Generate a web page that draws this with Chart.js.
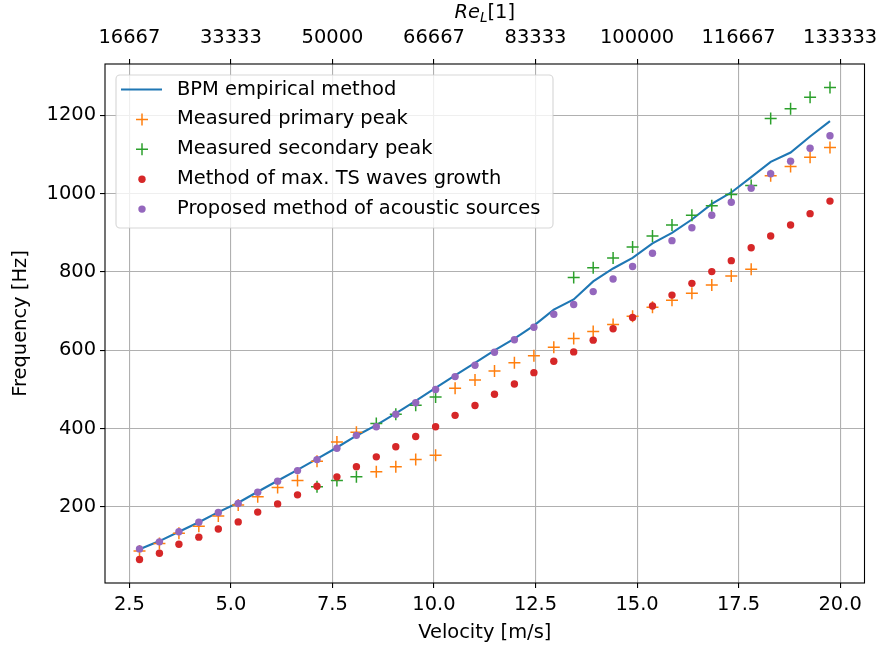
<!DOCTYPE html>
<html>
<head>
<meta charset="utf-8">
<script src="https://cdn.jsdelivr.net/npm/chart.js@4.4.1/dist/chart.umd.min.js"></script>
<style>
  html, body { margin: 0; padding: 0; background: #fff; }
  #wrap { width: 879px; height: 646px; }
</style>
</head>
<body>
<div id="wrap"><canvas id="freqChart" width="879" height="646"></canvas></div>
<script>
// Flow velocity of each measurement [m/s]
const velocity = [
  2.75, 3.24, 3.72, 4.21, 4.69, 5.18, 5.66, 6.15, 6.64, 7.12, 7.61, 8.09,
  8.58, 9.06, 9.55, 10.04, 10.52, 11.01, 11.49, 11.98, 12.46, 12.95, 13.44, 13.92,
  14.41, 14.89, 15.38, 15.86, 16.35, 16.84, 17.32, 17.81, 18.29, 18.78, 19.26, 19.75
];

// Frequencies [Hz]
const bpmEmpirical = [
  92, 113, 137, 161, 187, 211, 239, 267, 295, 323, 352, 382,
  409, 439, 471, 504, 536, 568, 600, 630, 663, 704, 730, 776,
  809, 836, 873, 900, 934, 974, 1003, 1042, 1081, 1105, 1146, 1185
];
const primaryPeak = [
  88, 107, 133, 151, 177, 205, 226, 250, 268, 317, 366, 391,
  290, 303, 321, 332, 503, 524, 547, 568, 586, 608, 630, 648,
  666, 687, 710, 728, 746, 767, 790, 807, 1046, 1069, 1093, 1118
];
const secondaryPeak = [
  null, null, null, null, null, null, null, null, null, 252, 268, 277,
  413, 437, 460, 481, null, null, null, null, null, null, 786, 811,
  836, 864, 892, 920, 945, 969, 998, 1021, 1192, 1217, 1246, 1271
];
const tsWavesGrowth = [
  66, 82, 105, 123, 144, 162, 187, 208, 231, 253, 277, 303,
  328, 354, 380, 405, 434, 459, 488, 514, 543, 572, 596, 626,
  655, 684, 713, 741, 771, 801, 829, 862, 892, 920, 949, 981
];
const acousticSources = [
  93, 111, 137, 161, 186, 209, 238, 266, 293, 321, 350, 383,
  405, 437, 466, 500, 533, 562, 595, 627, 659, 692, 717, 750,
  782, 814, 848, 880, 913, 945, 978, 1014, 1051, 1083, 1116, 1148
];

// Axis ticks
const velocityTicks = [2.5, 5.0, 7.5, 10.0, 12.5, 15.0, 17.5, 20.0];
const velocityTickLabels = ['2.5', '5.0', '7.5', '10.0', '12.5', '15.0', '17.5', '20.0'];
const reTickLabels = ['16667', '33333', '50000', '66667', '83333', '100000', '116667', '133333'];
const freqTicks = [200, 400, 600, 800, 1000, 1200];

const toPoints = ys => velocity
  .map((v, i) => ({ x: v, y: ys[i] }))
  .filter(p => p.y !== null);

const FONT = { family: "'DejaVu Sans', sans-serif", size: 19.44 };
const gridStyle = { color: '#b0b0b0', lineWidth: 1.1, tickColor: '#000', tickLength: 5, tickWidth: 1.1 };

// keep the plot box fixed: tick labels may run past the frame edges
const fixHeight = h => s => { s.height = h; s.paddingLeft = 0; s.paddingRight = 0; };

// Plot frame, legend and the mathtext-like top axis label
const decorations = {
  id: 'decorations',
  afterDatasetsDraw(chart) {
    const { ctx, chartArea: a } = chart;
    ctx.save();
    ctx.strokeStyle = '#000';
    ctx.lineWidth = 1.1;
    ctx.strokeRect(a.left, a.top, a.right - a.left, a.bottom - a.top);
    ctx.restore();
  },
  afterDraw(chart) {
    const { ctx, chartArea: a } = chart;
    ctx.save();

    // legend
    ctx.beginPath();
    ctx.roundRect(116, 75, 437, 153, 4);
    ctx.fillStyle = 'rgba(255,255,255,0.8)';
    ctx.fill();
    ctx.strokeStyle = 'rgba(204,204,204,0.8)';
    ctx.lineWidth = 1.1;
    ctx.stroke();

    ctx.font = `${FONT.size}px ${FONT.family}`;
    ctx.textBaseline = 'middle';
    ctx.textAlign = 'left';
    chart.data.datasets.forEach((ds, i) => {
      const cy = 89.5 + i * 29.9;
      if (ds.showLine) {
        ctx.beginPath();
        ctx.moveTo(121, cy);
        ctx.lineTo(162, cy);
        ctx.strokeStyle = ds.borderColor;
        ctx.lineWidth = ds.borderWidth;
        ctx.stroke();
      } else {
        ctx.fillStyle = ds.backgroundColor;
        ctx.strokeStyle = ds.borderColor;
        ctx.lineWidth = ds.borderWidth;
        Chart.helpers.drawPoint(ctx, {
          pointStyle: ds.pointStyle, radius: ds.pointRadius, rotation: 0, borderWidth: ds.borderWidth
        }, 142, cy);
      }
      ctx.fillStyle = '#000';
      ctx.fillText(ds.label, 177, cy);
    });

    // top axis label: Re_L[1]
    const size = FONT.size;
    const italic = `italic ${size}px ${FONT.family}`;
    const sub = `italic ${size * 0.7}px ${FONT.family}`;
    const upright = `${size}px ${FONT.family}`;
    ctx.font = italic; const wRe = ctx.measureText('Re').width;
    ctx.font = sub; const wL = ctx.measureText('L').width;
    ctx.font = upright; const wB = ctx.measureText('[1]').width;
    let x = (a.left + a.right) / 2 - (wRe + wL + wB) / 2;
    const y = 13;
    ctx.fillStyle = '#000';
    ctx.font = italic; ctx.fillText('Re', x, y); x += wRe;
    ctx.font = sub; ctx.fillText('L', x, y + size * 0.28); x += wL;
    ctx.font = upright; ctx.fillText('[1]', x, y);

    ctx.restore();
  }
};

new Chart(document.getElementById('freqChart'), {
  type: 'scatter',
  data: {
    datasets: [
      {
        label: 'BPM empirical method',
        data: toPoints(bpmEmpirical),
        showLine: true,
        borderColor: '#1f77b4',
        backgroundColor: '#1f77b4',
        borderWidth: 2.1,
        pointRadius: 0,
        tension: 0,
        order: 4
      },
      {
        label: 'Measured primary peak',
        data: toPoints(primaryPeak),
        pointStyle: 'cross',
        pointRadius: 6,
        borderWidth: 1.5,
        borderColor: '#ff7f0e',
        backgroundColor: '#ff7f0e',
        order: 3
      },
      {
        label: 'Measured secondary peak',
        data: toPoints(secondaryPeak),
        pointStyle: 'cross',
        pointRadius: 6,
        borderWidth: 1.5,
        borderColor: '#2ca02c',
        backgroundColor: '#2ca02c',
        order: 2
      },
      {
        label: 'Method of max. TS waves growth',
        data: toPoints(tsWavesGrowth),
        pointStyle: 'circle',
        pointRadius: 3.7,
        borderWidth: 0,
        borderColor: '#d62728',
        backgroundColor: '#d62728',
        order: 1
      },
      {
        label: 'Proposed method of acoustic sources',
        data: toPoints(acousticSources),
        pointStyle: 'circle',
        pointRadius: 3.7,
        borderWidth: 0,
        borderColor: '#9467bd',
        backgroundColor: '#9467bd',
        order: 0
      }
    ]
  },
  options: {
    responsive: false,
    devicePixelRatio: 1,
    animation: false,
    events: [],
    layout: { padding: { left: 0, right: 14.5, top: 0, bottom: 0 } },
    plugins: {
      legend: { display: false },
      tooltip: { enabled: false }
    },
    scales: {
      x: {
        type: 'linear',
        position: 'bottom',
        min: 1.9,
        max: 20.6,
        grid: gridStyle,
        border: { display: false },
        afterBuildTicks: s => { s.ticks = velocityTicks.map(v => ({ value: v })); },
        afterFit: fixHeight(63),
        ticks: {
          autoSkip: false, maxRotation: 0, padding: 5, color: '#000', font: FONT,
          callback: (v, i) => velocityTickLabels[i]
        },
        title: {
          display: true, text: 'Velocity [m/s]', color: '#000', font: FONT,
          padding: { top: 0, bottom: 1 }
        }
      },
      x2: {
        type: 'linear',
        position: 'top',
        min: 1.9,
        max: 20.6,
        grid: { ...gridStyle, drawOnChartArea: false },
        border: { display: false },
        afterBuildTicks: s => { s.ticks = velocityTicks.map(v => ({ value: v })); },
        afterFit: fixHeight(64),
        ticks: {
          autoSkip: false, maxRotation: 0, padding: 9, color: '#000', font: FONT,
          callback: (v, i) => reTickLabels[i]
        }
      },
      y: {
        type: 'linear',
        position: 'left',
        min: 6,
        max: 1331,
        grid: gridStyle,
        border: { display: false },
        afterBuildTicks: s => { s.ticks = freqTicks.map(v => ({ value: v })); },
        afterFit: s => { s.width = 105; s.paddingTop = 0; s.paddingBottom = 0; },
        ticks: { padding: 4, color: '#000', font: FONT, callback: v => String(v) },
        title: {
          display: true, text: 'Frequency [Hz]', color: '#000', font: FONT,
          padding: { top: 9, bottom: 0 }
        }
      }
    }
  },
  plugins: [decorations]
});
</script>
</body>
</html>
